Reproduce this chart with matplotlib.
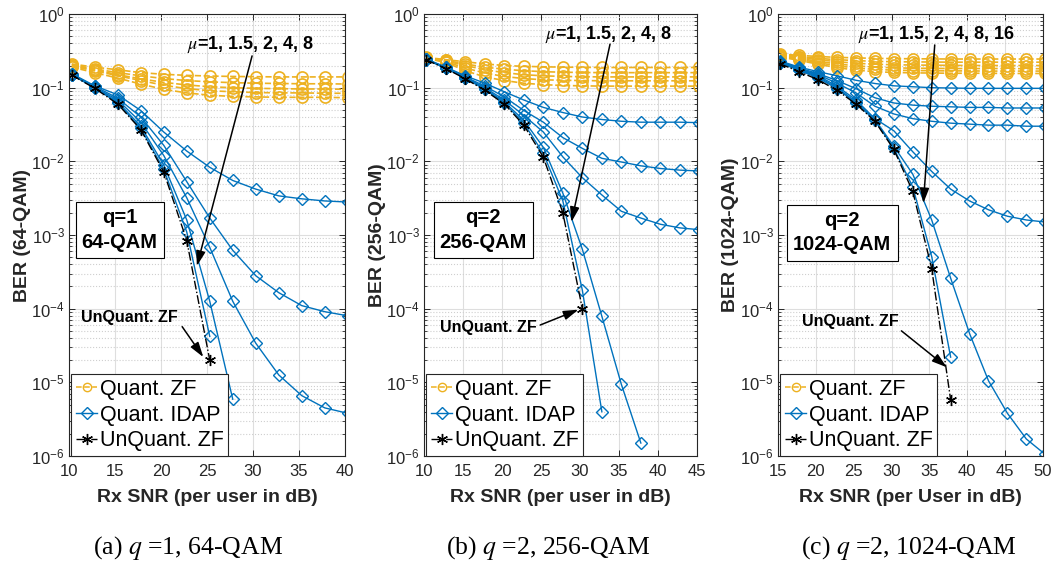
import matplotlib.pyplot as plt
from matplotlib.lines import Line2D
from matplotlib.ticker import LogLocator, NullFormatter

plt.rcParams["font.family"] = ["Liberation Sans", "DejaVu Sans"]
plt.rcParams["mathtext.fontset"] = "stix"

ORANGE = "#EDB120"
BLUE = "#0072BD"
EDGE = "#262626"

# ---- (a) q=1, 64-QAM ----
snr_a = [10.3, 12.8, 15.3, 17.8, 20.3, 22.8, 25.3, 27.8, 30.3, 32.8, 35.3, 37.8, 40.3]
zf_a = [
    [0.21, 0.19, 0.175, 0.16, 0.152, 0.147, 0.144, 0.142, 0.141, 0.14, 0.14, 0.14, 0.14],
    [0.205, 0.18, 0.16, 0.145, 0.133, 0.125, 0.12, 0.117, 0.115, 0.114, 0.113, 0.113, 0.112],
    [0.2, 0.175, 0.15, 0.132, 0.118, 0.109, 0.103, 0.1, 0.098, 0.097, 0.096, 0.096, 0.095],
    [0.195, 0.17, 0.145, 0.125, 0.108, 0.097, 0.091, 0.088, 0.086, 0.085, 0.085, 0.084, 0.084],
    [0.19, 0.16, 0.135, 0.112, 0.095, 0.085, 0.079, 0.076, 0.075, 0.074, 0.074, 0.074, 0.073],
]
idap_a = [
    [0.155, 0.106, 0.080, 0.049, 0.025, 0.0138, 0.0083, 0.0055, 0.0042, 0.0034, 0.0031, 0.0029, 0.0028],
    [0.152, 0.104, 0.072, 0.040, 0.0165, 0.0053, 0.0017, 6.2e-4, 2.8e-4, 1.65e-4, 1.1e-4, 9.1e-5, 8.0e-5],
    [0.150, 0.101, 0.068, 0.034, 0.012, 0.0032, 6.8e-4, 1.26e-4, 3.4e-5, 1.26e-5, 6.6e-6, 4.5e-6, 3.8e-6],
    [0.150, 0.100, 0.064, 0.030, 0.0089, 0.0016, 1.26e-4, 5.9e-6],
    [0.150, 0.100, 0.062, 0.028, 0.0078, 0.0011, 4.2e-5],
]
unq_a = [0.148, 0.098, 0.060, 0.027, 0.0072, 8.4e-4, 2.0e-5]

# ---- (b) q=2, 256-QAM ----
snr_b = [10.3, 12.8, 15.3, 17.8, 20.3, 22.8, 25.3, 27.8, 30.3, 32.8, 35.3, 37.8, 40.3, 42.8, 45.3]
zf_b = [
    [0.258, 0.24, 0.225, 0.21, 0.2, 0.195, 0.192, 0.19, 0.189, 0.188, 0.188, 0.188, 0.188, 0.188, 0.188],
    [0.256, 0.235, 0.21, 0.19, 0.178, 0.17, 0.165, 0.162, 0.161, 0.16, 0.16, 0.16, 0.16, 0.16, 0.16],
    [0.254, 0.23, 0.2, 0.175, 0.16, 0.15, 0.145, 0.142, 0.141, 0.14, 0.14, 0.14, 0.14, 0.14, 0.14],
    [0.252, 0.225, 0.185, 0.158, 0.142, 0.133, 0.128, 0.126, 0.125, 0.124, 0.124, 0.124, 0.124, 0.124, 0.124],
    [0.25, 0.22, 0.17, 0.14, 0.125, 0.115, 0.11, 0.107, 0.106, 0.105, 0.105, 0.105, 0.105, 0.105, 0.105],
]
idap_b = [
    [0.245, 0.19, 0.145, 0.115, 0.088, 0.068, 0.054, 0.046, 0.040, 0.037, 0.035, 0.034, 0.034, 0.034, 0.0335],
    [0.243, 0.188, 0.14, 0.105, 0.075, 0.049, 0.034, 0.021, 0.015, 0.011, 0.0098, 0.0087, 0.0080, 0.0076, 0.0074],
    [0.242, 0.186, 0.137, 0.100, 0.068, 0.042, 0.025, 0.0115, 0.006, 0.0035, 0.0021, 0.0017, 0.0014, 0.00125, 0.00118],
    [0.24, 0.185, 0.135, 0.097, 0.064, 0.036, 0.0155, 0.0037, 6.4e-4, 7.9e-5, 9.4e-6, 1.5e-6],
    [0.24, 0.184, 0.134, 0.095, 0.062, 0.033, 0.0128, 0.0029, 1.78e-4, 4e-6],
]
unq_b = [0.238, 0.182, 0.132, 0.092, 0.060, 0.031, 0.0114, 0.002, 1e-4]

# ---- (c) q=2, 1024-QAM ----
snr_c = [15.3, 17.8, 20.3, 22.8, 25.3, 27.8, 30.3, 32.8, 35.3, 37.8, 40.3, 42.8, 45.3, 47.8, 50.3]
zf_c = [
    [0.285, 0.275, 0.265, 0.258, 0.254, 0.25, 0.248, 0.247, 0.246, 0.245, 0.245, 0.245, 0.245, 0.245, 0.245],
    [0.28, 0.265, 0.25, 0.24, 0.233, 0.228, 0.225, 0.224, 0.223, 0.222, 0.222, 0.222, 0.222, 0.222, 0.222],
    [0.275, 0.258, 0.24, 0.225, 0.215, 0.208, 0.205, 0.203, 0.202, 0.201, 0.2, 0.2, 0.2, 0.2, 0.2],
    [0.27, 0.25, 0.228, 0.21, 0.198, 0.19, 0.186, 0.184, 0.183, 0.182, 0.182, 0.182, 0.182, 0.181, 0.181],
    [0.265, 0.243, 0.218, 0.198, 0.185, 0.177, 0.173, 0.171, 0.17, 0.169, 0.169, 0.168, 0.168, 0.168, 0.168],
    [0.26, 0.235, 0.208, 0.187, 0.173, 0.165, 0.161, 0.159, 0.158, 0.157, 0.157, 0.157, 0.156, 0.156, 0.156],
]
idap_c = [
    [0.23, 0.19, 0.165, 0.145, 0.126, 0.114, 0.106, 0.103, 0.1, 0.099, 0.098, 0.098, 0.098, 0.098, 0.098],
    [0.225, 0.185, 0.155, 0.125, 0.097, 0.073, 0.062, 0.058, 0.056, 0.055, 0.054, 0.054, 0.053, 0.053, 0.053],
    [0.222, 0.18, 0.15, 0.115, 0.085, 0.056, 0.044, 0.038, 0.035, 0.033, 0.032, 0.031, 0.031, 0.030, 0.030],
    [0.22, 0.178, 0.145, 0.105, 0.068, 0.038, 0.026, 0.0135, 0.0073, 0.0042, 0.0029, 0.0022, 0.0018, 0.0016, 0.0015],
    [0.218, 0.175, 0.14, 0.1, 0.064, 0.037, 0.016, 0.0067, 0.0016, 2.6e-4, 4.6e-5, 1.05e-5, 3.8e-6, 1.7e-6, 1.05e-6],
    [0.216, 0.172, 0.135, 0.097, 0.062, 0.036, 0.015, 0.0045, 5.1e-4, 2.2e-5],
]
unq_c = [0.21, 0.165, 0.128, 0.092, 0.06, 0.035, 0.0145, 0.0039, 3.5e-4, 5.8e-6]


def draw_curves(ax, snr, zf, idap, unq):
    for ber in zf:
        ax.plot(snr[:len(ber)], ber, ls="--", color=ORANGE, lw=1.2,
                marker="o", ms=8, mfc="none", mew=1.2)
    for ber in idap:
        ax.plot(snr[:len(ber)], ber, ls="-", color=BLUE, lw=1.0,
                marker="D", ms=6.5, mfc="none", mew=1.0)
    ax.plot(snr[:len(unq)], unq, ls="-.", color="k", lw=1.0,
            marker=(6, 2, 0), ms=8, mew=1.0)


def style_axes(ax, xlim, xticks, ylabel, xlabel, ylab_x):
    ax.set_yscale("log")
    ax.set_ylim(1e-6, 1)
    ax.set_xlim(*xlim)
    ax.set_xticks(xticks)
    ax.yaxis.set_major_locator(LogLocator(base=10, numticks=10))
    ax.yaxis.set_minor_locator(LogLocator(base=10, subs=range(2, 10), numticks=100))
    ax.yaxis.set_minor_formatter(NullFormatter())
    ax.set_axisbelow(True)
    ax.grid(True, which="major", color="#dedede", lw=0.8)
    ax.grid(True, which="minor", axis="y", color="#cfcfcf", ls=":", lw=0.8)
    ax.tick_params(which="both", direction="in", top=True, right=True,
                   colors=EDGE, labelcolor="#262626", labelsize=12)
    ax.tick_params(which="major", length=4, width=0.7)
    ax.tick_params(which="minor", length=2.5, width=0.6)
    ax.tick_params(axis="x", pad=6)
    ax.tick_params(axis="y", pad=3)
    for sp in ax.spines.values():
        sp.set_color(EDGE)
        sp.set_linewidth(0.8)
    ax.set_ylabel(ylabel, fontsize=14, fontweight="bold", color="#262626")
    ax.set_xlabel(xlabel, fontsize=14, fontweight="bold", color="#262626")
    ax.yaxis.set_label_coords(ylab_x, 0.5)
    ax.xaxis.set_label_coords(0.5, -0.075)


def add_legend(ax):
    handles = [
        Line2D([], [], ls="--", color=ORANGE, lw=1.1, marker="o", ms=6, mfc="none"),
        Line2D([], [], ls="-", color=BLUE, lw=1.0, marker="D", ms=6.5, mfc="none"),
        Line2D([], [], ls="-.", color="k", lw=1.0, marker=(6, 2, 0), ms=8),
    ]
    labels = ["Quant. ZF", "Quant. IDAP", "UnQuant. ZF"]
    leg = ax.legend(handles, labels, loc="lower left", bbox_to_anchor=(0.008, 0.0),
                    borderaxespad=0, fontsize=15.5, handlelength=1.0, handletextpad=0.1,
                    borderpad=0.22, labelspacing=0.22, fancybox=False, framealpha=1,
                    edgecolor=EDGE)
    leg.get_frame().set_linewidth(0.8)


def annotate_panel(ax, mu_text, mu_pos, mu_tail, mu_tip, uq_pos, uq_tail, uq_tip,
                   box_text, box_pos):
    arrow = dict(arrowstyle="-|>,head_length=0.9,head_width=0.28", color="k",
                 lw=1.1, shrinkA=0, shrinkB=0)
    ax.text(*mu_pos, mu_text, ha="center", va="center", fontsize=13, fontweight="bold")
    ax.annotate("", xy=mu_tip, xytext=mu_tail, arrowprops=arrow)
    ax.text(*uq_pos, "UnQuant. ZF", ha="center", va="center", fontsize=11.5,
            fontweight="bold")
    ax.annotate("", xy=uq_tip, xytext=uq_tail, arrowprops=arrow)
    ax.text(*box_pos, box_text, ha="center", va="center", fontsize=14.5,
            fontweight="bold", linespacing=1.35,
            bbox=dict(boxstyle="square,pad=0.3", fc="white", ec="k", lw=0.8))


fig = plt.figure(figsize=(10.54, 5.70), dpi=100)
bottom, height = 0.2, 0.7754
ax_a = fig.add_axes([0.06546, bottom, 0.26186, height])
ax_b = fig.add_axes([0.40228, bottom, 0.25901, height])
ax_c = fig.add_axes([0.73814, bottom, 0.25142, height])

draw_curves(ax_a, snr_a, zf_a, idap_a, unq_a)
style_axes(ax_a, (10, 40), range(10, 41, 5), "BER (64-QAM)",
           "Rx SNR (per user in dB)", -0.138)
add_legend(ax_a)
annotate_panel(ax_a, r"$\mu$=1, 1.5, 2, 4, 8", (29.7, 0.39), (29.9, 0.27), (23.9, 3.8e-4),
               (16.6, 7.5e-5), (22.3, 5.7e-5), (24.6, 2.2e-5),
               "q=1\n64-QAM", (15.5, 1.17e-3))

draw_curves(ax_b, snr_b, zf_b, idap_b, unq_b)
style_axes(ax_b, (10, 45), range(10, 46, 5), "BER (256-QAM)",
           "Rx SNR (per user in dB)", -0.139)
add_legend(ax_b)
annotate_panel(ax_b, r"$\mu$=1, 1.5, 2, 4, 8", (33.6, 0.53), (33.85, 0.39), (28.9, 1.5e-3),
               (18.2, 5.5e-5), (24.9, 6.0e-5), (29.8, 9.7e-5),
               "q=2\n256-QAM", (17.6, 1.17e-3))

draw_curves(ax_c, snr_c, zf_c, idap_c, unq_c)
style_axes(ax_c, (15, 50), range(15, 51, 5), "BER (1024-QAM)",
           "Rx SNR (per User in dB)", -0.147)
add_legend(ax_c)
annotate_panel(ax_c, r"$\mu$=1, 1.5, 2, 4, 8, 16", (35.9, 0.52), (35.7, 0.38), (34.2, 2.7e-3),
               (24.6, 6.6e-5), (31.3, 5.0e-5), (37.3, 1.6e-5),
               "q=2\n1024-QAM", (23.5, 1.07e-3))

captions = [r"(a) $q$ =1, 64-QAM", r"(b) $q$ =2, 256-QAM", r"(c) $q$ =2, 1024-QAM"]
caption_x = [0.178, 0.52, 0.862]
for cx, cap in zip(caption_x, captions):
    fig.text(cx, 0.038, cap, ha="center", va="center", fontsize=18.5,
             fontfamily="Liberation Serif")

fig.savefig("out.png", dpi=100, facecolor="white")
